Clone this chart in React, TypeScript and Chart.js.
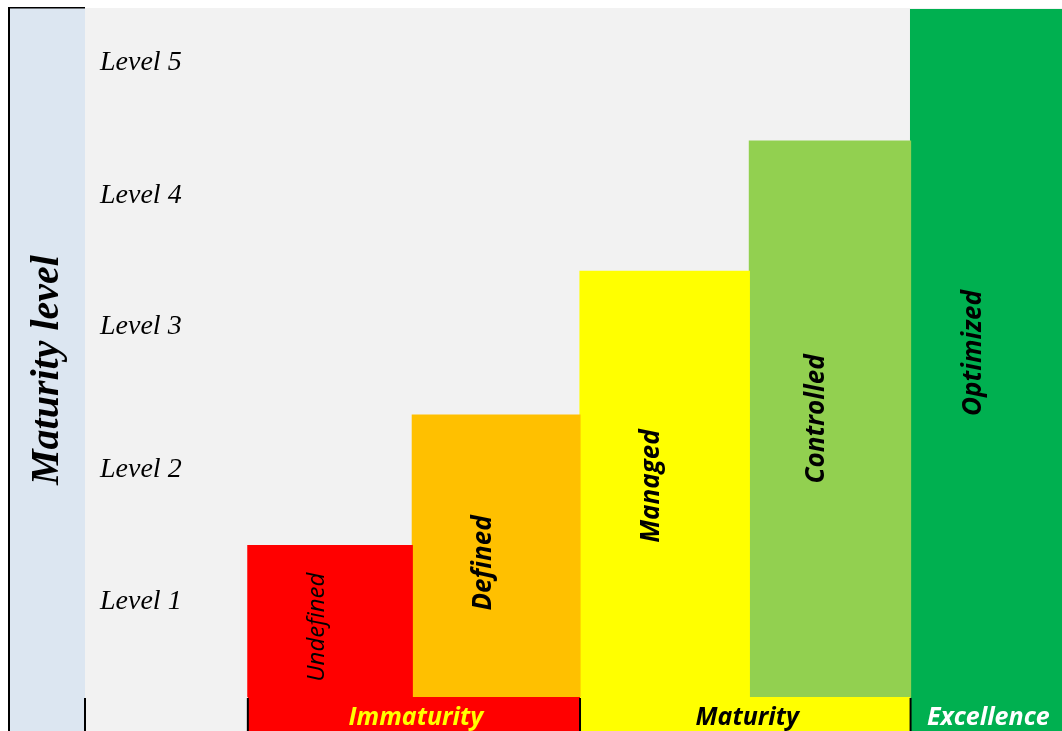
import React, { useEffect, useRef } from "react";
import { Chart, registerables } from "chart.js";

Chart.register(...registerables);

// ---- data ----
// column 0 is the empty slot that holds the level labels
const categories = ["", "Undefined", "Defined", "Managed", "Controlled", "Optimized"];
const columnWidths = [1.0, 1.01, 1.03, 1.04, 0.99, 0.93];
const maturityValues = [null, 1.14, 2.12, 3.2, 4.18, 5.17];
const barColors = ["rgba(0,0,0,0)", "#ff0000", "#ffc000", "#ffff00", "#92d050", "#00b050"];
const barLabelWeights = ["normal", "normal", "bold", "bold", "bold", "bold"];
const barLabelSizes = [24, 24, 26, 26, 26, 26];
const barLabelShift = [0, 6, 7, 2, 0, 0];
const levelLabels = ["Level 1", "Level 2", "Level 3", "Level 4", "Level 5"];
const levelPositions = [0.72, 1.71, 2.78, 3.77, 4.77];
const stageLabels = ["Immaturity", "Maturity", "Excellence"];
const stageFirstCategory = [1, 3, 5];
const stageLastCategory = [2, 4, 5];
const stageColors = ["#ff0000", "#ffff00", "#00b050"];
const stageTextColors = ["#ffff00", "#000000", "#ffffff"];
const axisTitle = "Maturity level";
const yMax = 5.17;

const W = 1062;
const H = 731;

const columnEdges: number[] = [0];
columnWidths.forEach((w, i) => columnEdges.push(columnEdges[i] + w));
const columnCenters = columnWidths.map((w, i) => columnEdges[i] + w / 2);

export default function App() {
  const ref = useRef<HTMLCanvasElement | null>(null);

  useEffect(() => {
    document.body.style.margin = "0";
    const canvas = ref.current;
    if (!canvas) return;

    const backgroundPlugin = {
      id: "bgPlugin",
      beforeDraw(chart: any) {
        const ctx = chart.ctx;
        const { left, right, top } = chart.chartArea;
        ctx.save();
        ctx.fillStyle = "#ffffff";
        ctx.fillRect(0, 0, W, H);
        ctx.fillStyle = "#f2f2f2";
        ctx.fillRect(left, top - 1, right - left, H - top + 1);
        ctx.fillStyle = "#dce6f1";
        ctx.fillRect(10, top - 1, left - 10, H - top + 1);
        ctx.fillStyle = "#000000";
        ctx.fillRect(8, 7, 2, H - 7);
        ctx.fillRect(8, 7, left - 8, 1.5);
        // axis title
        ctx.translate((10 + left) / 2, 370);
        ctx.rotate(-Math.PI / 2);
        ctx.font = "italic bold 40px 'Liberation Serif'";
        ctx.textAlign = "center";
        ctx.textBaseline = "middle";
        ctx.fillStyle = "#000000";
        ctx.fillText(axisTitle, 0, 0);
        ctx.restore();
      },
      afterDatasetsDraw(chart: any) {
        const ctx = chart.ctx;
        const xs = chart.scales.x;
        const ys = chart.scales.y;
        const { left, bottom } = chart.chartArea;
        ctx.save();
        // level labels
        ctx.font = "italic 28px 'Liberation Serif'";
        ctx.fillStyle = "#000000";
        ctx.textAlign = "left";
        ctx.textBaseline = "middle";
        levelLabels.forEach((lab, i) => {
          ctx.fillText(lab, left + 15, ys.getPixelForValue(levelPositions[i]));
        });
        // bar labels
        chart.data.datasets.forEach((_ds: any, d: number) => {
          const i = d + 1;
          const bar: any = chart.getDatasetMeta(d).data[0];
          if (!bar) return;
          const cy = (bar.y + bar.base) / 2 + barLabelShift[i];
          ctx.save();
          ctx.translate(bar.x - 13, cy);
          ctx.rotate(-Math.PI / 2);
          ctx.font = `italic ${barLabelWeights[i]} ${barLabelSizes[i]}px 'Open Sans'`;
          ctx.fillStyle = "#000000";
          ctx.textAlign = "center";
          ctx.textBaseline = "middle";
          ctx.fillText(categories[i], 0, 0);
          ctx.restore();
        });
        // stage band
        stageLabels.forEach((label, s) => {
          const x0 = xs.getPixelForValue(columnEdges[stageFirstCategory[s]]);
          const x1 = xs.getPixelForValue(columnEdges[stageLastCategory[s] + 1]);
          ctx.fillStyle = stageColors[s];
          ctx.fillRect(x0, bottom, x1 - x0, H - bottom);
          ctx.fillStyle = stageTextColors[s];
          ctx.font = "italic bold 25px 'Open Sans'";
          ctx.textAlign = "center";
          ctx.textBaseline = "middle";
          ctx.fillText(label, (x0 + x1) / 2 + 2, (bottom + H) / 2 + 4);
          ctx.fillStyle = "#000000";
          ctx.fillRect(x0 - 1, bottom + 1, 2, H - bottom);
        });
        ctx.fillStyle = "#000000";
        ctx.fillRect(left - 1, bottom + 1, 2, H - bottom);
        ctx.restore();
      },
    };

    const datasets = categories.slice(1).map((name, k) => {
      const i = k + 1;
      return {
        label: name,
        data: [{ x: columnCenters[i], y: maturityValues[i] }],
        backgroundColor: barColors[i],
        borderWidth: 0,
        stack: "steps",
        barThickness: (c: any) => {
          const xs = c.chart.scales && c.chart.scales.x;
          if (!xs) return 10;
          return Math.abs(xs.getPixelForValue(columnEdges[i + 1]) - xs.getPixelForValue(columnEdges[i])) + 0.5;
        },
      };
    });

    const chart = new Chart(canvas, {
      type: "bar",
      data: { datasets: datasets as any },
      options: {
        animation: false,
        responsive: true,
        maintainAspectRatio: false,
        layout: { padding: { left: 85, top: 9, right: 0, bottom: 34 } },
        plugins: { legend: { display: false }, tooltip: { enabled: false } },
        scales: {
          x: {
            type: "linear",
            display: false,
            stacked: true,
            offset: false,
            min: 0,
            max: columnEdges[columnEdges.length - 1],
          },
          y: { display: false, stacked: true, min: 0, max: yMax },
        },
      },
      plugins: [backgroundPlugin],
    });

    return () => chart.destroy();
  }, []);

  return (
    <div style={{ position: "fixed", left: 0, top: 0, width: W, height: H }}>
      <canvas ref={ref} />
    </div>
  );
}
